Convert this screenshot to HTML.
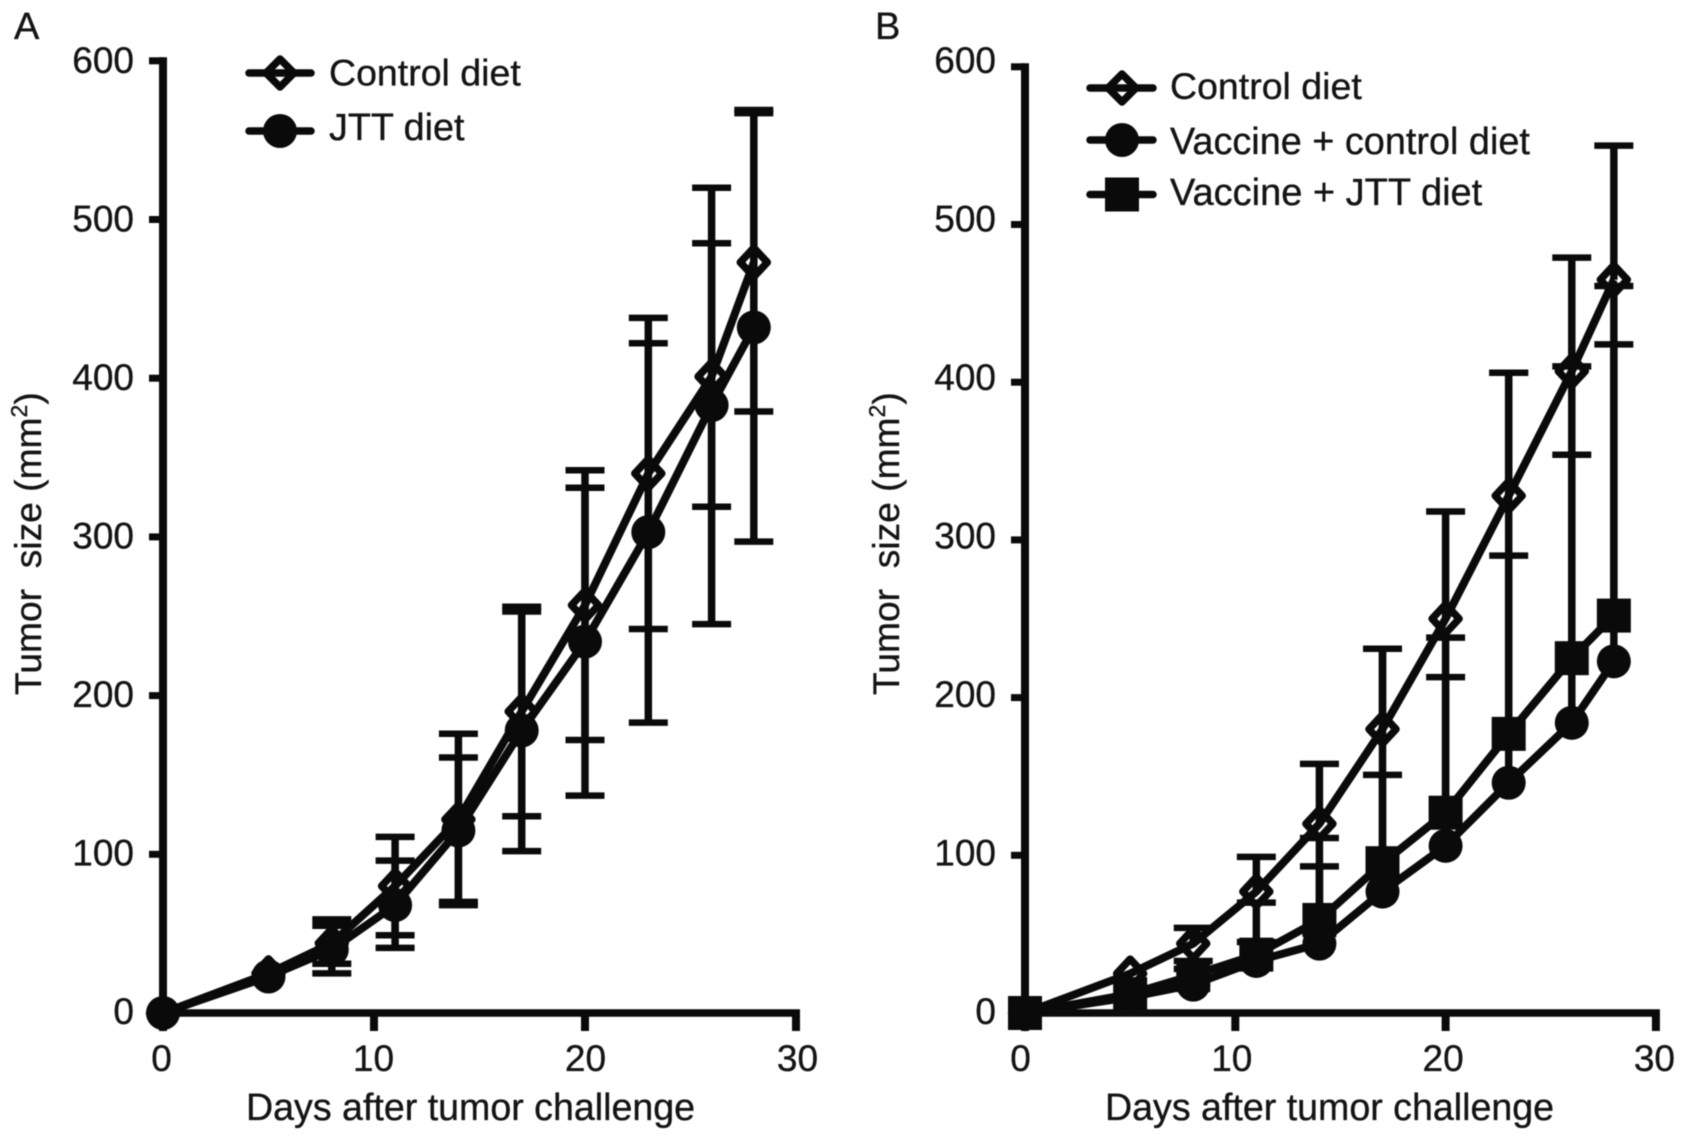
<!DOCTYPE html>
<html lang="en">
<head>
<meta charset="utf-8">
<title>Tumor size after challenge</title>
<style>
html,body{margin:0;padding:0;background:#fff;}
svg{display:block;filter:blur(0.6px);}
text{font-family:"Liberation Sans",sans-serif;fill:#141414;stroke:#141414;stroke-width:0.35px;white-space:pre;}
</style>
</head>
<body>
<svg id="figure" xmlns="http://www.w3.org/2000/svg" width="1688" height="1141" viewBox="0 0 1688 1141">
  <rect width="1688" height="1141" fill="#fff"/>
  <g id="panelA"></g>
  <g id="panelB"></g>
  <text x="14" y="39" font-size="38">A</text>
  <text x="875" y="39" font-size="38">B</text>
  <text transform="translate(41 695) rotate(-90)" font-size="37.2">Tumor  size (mm<tspan font-size="23" dy="-14">2</tspan><tspan dy="14">)</tspan></text>
  <text transform="translate(899 695) rotate(-90)" font-size="37.2">Tumor  size (mm<tspan font-size="23" dy="-14">2</tspan><tspan dy="14">)</tspan></text>
  <text x="246" y="1120" font-size="37.6">Days after tumor challenge</text>
  <text x="1105" y="1120" font-size="37.6">Days after tumor challenge</text>

  <g>
    <g>
      <line x1="249" y1="73" x2="311" y2="73" stroke="#0a0a0a" stroke-width="7.5" stroke-linecap="round"/>
      <path d="M280 59L294 73L280 87L266 73Z" fill="none" stroke="#0a0a0a" stroke-width="7.5" stroke-linejoin="round"/>
      <text x="329" y="85.500" font-size="37.5">Control diet</text>
    </g>
    <g>
      <line x1="249" y1="131" x2="311" y2="131" stroke="#0a0a0a" stroke-width="7.5" stroke-linecap="round"/>
      <circle cx="280" cy="131" r="17" fill="#0a0a0a"/>
      <text x="329" y="140" font-size="37.7">JTT diet</text>
    </g>
  </g>
  <g>
    <g>
      <line x1="1090" y1="88" x2="1153" y2="88" stroke="#0a0a0a" stroke-width="7.5" stroke-linecap="round"/>
      <path d="M1122 74L1136 88L1122 102L1108 88Z" fill="none" stroke="#0a0a0a" stroke-width="7.5" stroke-linejoin="round"/>
      <text x="1170" y="99" font-size="37.5">Control diet</text>
    </g>
    <g>
      <line x1="1090" y1="140" x2="1153" y2="140" stroke="#0a0a0a" stroke-width="7.5" stroke-linecap="round"/>
      <circle cx="1122" cy="140" r="17" fill="#0a0a0a"/>
      <text x="1170" y="154" font-size="37.85">Vaccine + control diet</text>
    </g>
    <g>
      <line x1="1090" y1="194.500" x2="1153" y2="194.500" stroke="#0a0a0a" stroke-width="7.5" stroke-linecap="round"/>
      <rect x="1105" y="177.500" width="34" height="34" fill="#0a0a0a"/>
      <text x="1170" y="205" font-size="38">Vaccine + JTT diet</text>
    </g>
  </g>
</svg>
<script>
// Shared axis data
var days = [0, 5, 8, 11, 14, 17, 20, 23, 26, 28];
var yTickValues = [0, 100, 200, 300, 400, 500, 600];
var xTickValues = [0, 10, 20, 30];

// Panel A
var aControlMean  = [0, 25, 44, 80, 122, 190, 257, 340, 401, 473];
var aControlUpper = [0, 27, 59, 111, 176, 256, 342, 438, 485, 569];
var aControlLower = [0, 23, 31, 49, 68, 124, 172, 242, 319, 379];
var aJttMean  = [0, 23, 40, 68, 115, 178, 234, 303, 383, 432];
var aJttUpper = [0, 25, 55, 96, 161, 253, 331, 422, 520, 567];
var aJttLower = [0, 21, 25, 41, 70, 102, 137, 183, 245, 297];

// Panel B (upper error bars only)
var bControlMean  = [0, 25, 44, 77, 120, 180, 250, 328, 407, 465];
var bControlUpper = [0, 27, 54, 99, 158, 231, 318, 406, 479, 550];
var bVaccineMean  = [0, 10, 18, 33, 44, 77, 106, 146, 184, 223];
var bVaccineUpper = [0, 12, 28, 45, 93, 151, 213, 290, 354, 424];
var bJttMean  = [0, 12, 24, 37, 59, 95, 127, 177, 225, 252];
var bJttUpper = [0, 14, 33, 70, 111, 231, 238, 406, 410, 461];

var SVGNS = 'http://www.w3.org/2000/svg';
var INK = '#0a0a0a';

function make(tag, attrs, parent) {
  var n = document.createElementNS(SVGNS, tag);
  for (var k in attrs) n.setAttribute(k, attrs[k]);
  parent.appendChild(n);
  return n;
}

function drawAxes(parent, sx, sy, labelY, xLabelX) {
  var xAxis = make('line', {x1: sx(0) - 4, y1: sy(0), x2: sx(30) + 4, y2: sy(0), stroke: INK, 'stroke-width': 7.5}, parent);
  
  
  var yAxis = make('line', {x1: sx(0), y1: sy(600) - 3.5, x2: sx(0), y2: sy(0) + 3, stroke: INK, 'stroke-width': 8}, parent);
  
  

  yTickValues.forEach(function (v) {
    var tick = make('line', {x1: sx(0) - 14, y1: sy(v), x2: sx(0), y2: sy(v), stroke: INK, 'stroke-width': 7}, parent);
    
    
    var label = make('text', {x: sx(0) - 29, y: labelY(v), 'font-size': 37, 'text-anchor': 'end'}, parent);
    
    
    label.textContent = String(v);
  });

  xTickValues.forEach(function (v) {
    var tick = make('line', {x1: sx(v), y1: sy(0), x2: sx(v), y2: sy(0) + 18, stroke: INK, 'stroke-width': 8}, parent);
    
    
    var label = make('text', {x: xLabelX(v), y: 1071, 'font-size': 37, 'text-anchor': 'middle'}, parent);
    
    
    label.textContent = String(v);
  });
}

function drawErrors(parent, sx, sy, means, upper, lower, name) {
  days.forEach(function (d, i) {
    // Bars shorter than the marker radius are hidden inside the marker
    if (upper[i] - means[i] < 4) return;
    var stemEnd = lower ? sy(lower[i]) : sy(means[i]);
    var stem = make('line', {x1: sx(d), y1: sy(upper[i]), x2: sx(d), y2: stemEnd, stroke: INK, 'stroke-width': 7.5}, parent);
    
    
    var capHi = make('line', {x1: sx(d) - 19.5, y1: sy(upper[i]), x2: sx(d) + 19.5, y2: sy(upper[i]), stroke: INK, 'stroke-width': 6.5, 'stroke-linecap': 'butt'}, parent);
    
    
    if (lower) {
      var capLo = make('line', {x1: sx(d) - 19.5, y1: sy(lower[i]), x2: sx(d) + 19.5, y2: sy(lower[i]), stroke: INK, 'stroke-width': 6.5}, parent);
      
      
    }
  });
}

function drawLine(parent, sx, sy, means, name) {
  var pts = days.map(function (d, i) { return sx(d) + ',' + sy(means[i]); }).join(' ');
  var line = make('polyline', {points: pts, fill: 'none', stroke: INK, 'stroke-width': 8, 'stroke-linejoin': 'round'}, parent);
  
  
}

function drawMarkers(parent, sx, sy, means, shape, name) {
  days.forEach(function (d, i) {
    var x = sx(d), y = sy(means[i]), m;
    if (shape === 'diamond') {
      m = make('path', {d: 'M' + x + ' ' + (y - 14.5) + 'L' + (x + 13.5) + ' ' + y + 'L' + x + ' ' + (y + 14.5) + 'L' + (x - 13.5) + ' ' + y + 'Z', fill: 'none', stroke: INK, 'stroke-width': 7.5, 'stroke-linejoin': 'round'}, parent);
    } else if (shape === 'circle') {
      m = make('circle', {cx: x, cy: y, r: 17, fill: INK}, parent);
    } else {
      m = make('rect', {x: x - 17, y: y - 17, width: 34, height: 34, fill: INK}, parent);
    }
    
    
  });
}

// Tick labels sit on their own slightly different spacing from the tick marks
function labelY(v) { return 1024 - v * 951 / 600; }

// Panel A axis functions
function axA(d) { return 163 + d * 21.1; }
function ayA(v) { return 1013 - v * 1.587; }
function axALabel(d) { return 161.5 + d * 21.2; }

// Panel B axis functions
function axB(d) { return 1025 + d * 21.03; }
function ayB(v) { return 1013 - v * 1.577; }
function axBLabel(d) { return 1020.5 + d * 21.13; }

var gA = document.getElementById('panelA');
drawAxes(gA, axA, ayA, labelY, axALabel);
drawErrors(gA, axA, ayA, aControlMean, aControlUpper, aControlLower, 'control-diet');
drawErrors(gA, axA, ayA, aJttMean, aJttUpper, aJttLower, 'jtt-diet');
drawLine(gA, axA, ayA, aControlMean, 'control-diet');
drawLine(gA, axA, ayA, aJttMean, 'jtt-diet');
drawMarkers(gA, axA, ayA, aControlMean, 'diamond', 'control-diet');
drawMarkers(gA, axA, ayA, aJttMean, 'circle', 'jtt-diet');

var gB = document.getElementById('panelB');
drawAxes(gB, axB, ayB, labelY, axBLabel);
drawErrors(gB, axB, ayB, bControlMean, bControlUpper, null, 'control-diet');
drawErrors(gB, axB, ayB, bVaccineMean, bVaccineUpper, null, 'vaccine-control-diet');
drawErrors(gB, axB, ayB, bJttMean, bJttUpper, null, 'vaccine-jtt-diet');
drawLine(gB, axB, ayB, bControlMean, 'control-diet');
drawLine(gB, axB, ayB, bVaccineMean, 'vaccine-control-diet');
drawLine(gB, axB, ayB, bJttMean, 'vaccine-jtt-diet');
drawMarkers(gB, axB, ayB, bControlMean, 'diamond', 'control-diet');
drawMarkers(gB, axB, ayB, bVaccineMean, 'circle', 'vaccine-control-diet');
drawMarkers(gB, axB, ayB, bJttMean, 'square', 'vaccine-jtt-diet');
</script>
</body>
</html>
